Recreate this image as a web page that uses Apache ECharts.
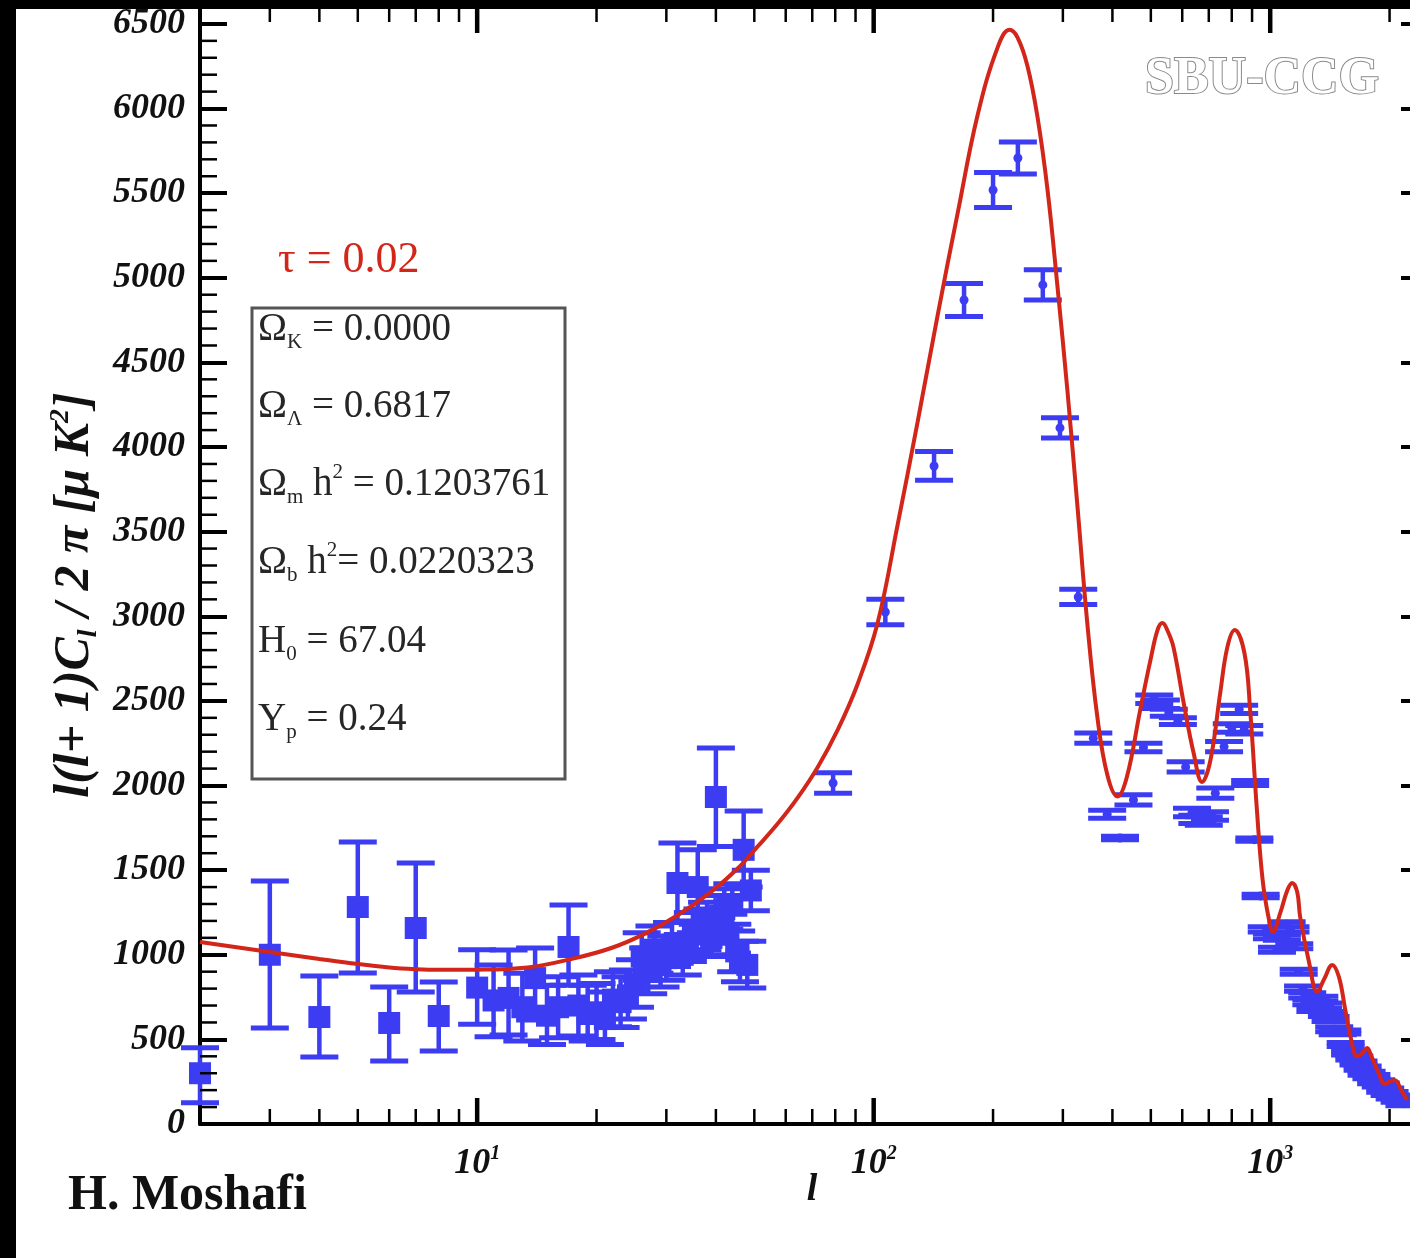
<!DOCTYPE html>
<html>
<head>
<meta charset="utf-8">
<title>CMB TT power spectrum</title>
<script src="https://cdn.jsdelivr.net/npm/echarts@6/dist/echarts.min.js"></script>
<style>
  html, body { margin: 0; padding: 0; background: #fff; }
  #chart { width: 1410px; height: 1258px; }
</style>
</head>
<body>
<div id="chart"></div>
<script>
// ---- low-l measurements: multipole, value, lower and upper error bounds ----
const lowEll = [2, 3, 4, 5, 6, 7, 8, 10, 11, 12, 13, 14, 15, 16, 17, 18, 19, 20, 21, 22, 23, 24, 25,
  26, 27, 28, 29, 30, 31, 32, 33, 34, 35, 36, 37, 38, 39, 40, 41, 42, 43, 44, 45, 46, 47, 48, 49];
const lowVal = [300, 1000, 632, 1282, 597, 1158, 638, 806, 730, 745, 690, 862, 640, 690, 1046, 700, 650, 660, 620, 735, 720, 760, 830,
  990, 900, 1030, 940, 980, 1060, 1424, 1000, 1080, 1130, 1400, 1150, 1190, 1100, 1932, 1230, 1270, 1120, 1300, 1020, 960, 1620, 940, 1380];
const lowLo = [125, 567, 396, 892, 372, 780, 431, 590, 515, 526, 490, 615, 470, 510, 820, 520, 490, 500, 470, 575, 570, 620, 690,
  850, 770, 890, 810, 850, 930, 1190, 880, 960, 1010, 1180, 1030, 1070, 990, 1640, 1110, 1150, 1000, 1180, 900, 840, 1400, 804, 1260];
const lowHi = [450, 1436, 875, 1666, 810, 1542, 839, 1030, 940, 1028, 890, 1040, 820, 870, 1294, 880, 820, 830, 780, 900, 870, 910, 970,
  1130, 1040, 1170, 1070, 1110, 1190, 1660, 1120, 1200, 1250, 1620, 1270, 1310, 1220, 2222, 1350, 1390, 1240, 1420, 1140, 1080, 1850, 1080, 1500];

// ---- binned high-l measurements: multipole, value, symmetric error ----
const highEll = [79, 107, 142, 169, 200, 231, 267, 295, 328, 358, 388, 418, 452, 479, 510, 530, 555, 585, 612, 635, 655, 680, 705, 727,
  765, 800, 835, 860, 890, 912, 946, 980, 1010, 1040, 1070, 1100, 1125, 1150, 1180, 1210, 1240, 1270, 1300, 1330, 1360, 1390, 1420,
  1450, 1480, 1520, 1550, 1590, 1630, 1670, 1710, 1750, 1800, 1850, 1900, 1950, 2000, 2060, 2120, 2180];
const highVal = [2015, 3025, 3888, 4869, 5519, 5708, 4958, 4113, 3114, 2280, 1830, 1690, 1915, 2225, 2510, 2480, 2430, 2380, 2110, 1840, 1800, 1790, 1820, 1955,
  2230, 2340, 2450, 2330, 2015, 1680, 1347, 1150, 1110, 1030, 1100, 1180, 1150, 1050, 900, 800, 760, 720, 680, 740, 700, 650, 620,
  560, 540, 544, 470, 420, 390, 360, 330, 300, 280, 250, 230, 200, 180, 160, 140, 120];
const highErr = [60, 75, 85, 97, 103, 95, 89, 60, 45, 30, 24, 10, 30, 25, 25, 25, 20, 20, 30, 25, 25, 25, 25, 30,
  30, 25, 25, 25, 15, 10, 10, 15, 15, 15, 15, 15, 15, 15, 15, 15, 15, 15, 15, 15, 15, 15, 15,
  15, 12, 12, 12, 12, 12, 12, 12, 12, 12, 12, 12, 12, 12, 12, 12, 12];

// ---- model spectrum (tau = 0.02) ----
const modelEll = [2, 3, 4, 5, 6, 7, 8, 10, 13.4, 17.3, 21.8, 26.5, 32.1, 38.8, 45.4, 51, 57.3, 64.4, 72.3, 81.2, 91.1, 102.3,
  114.9, 129.1, 145, 162.8, 182.8, 205.3, 220, 230.5, 244.3, 258.9, 274.4, 290.7, 308.1, 326.5, 346, 366.7, 388.6, 411.8,
  435, 470, 499, 520, 535, 552, 570, 605, 641, 673, 707, 748, 780, 814, 861, 890, 926, 957, 990, 1016, 1060, 1104, 1136, 1170,
  1190, 1254, 1314, 1370, 1433, 1490, 1545, 1600, 1656, 1710, 1755, 1800, 1870, 1948, 2000, 2064, 2140, 2214];
const modelVal = [1075, 1016, 975, 945, 925, 915, 911, 912, 925, 975, 1040, 1125, 1235, 1370, 1510, 1640, 1775, 1930, 2110, 2330, 2600, 2960,
  3540, 4150, 4780, 5380, 5960, 6360, 6465, 6420, 6250, 5950, 5520, 4950, 4330, 3650, 2950, 2400, 2060, 1935,
  2050, 2446, 2742, 2920, 2960, 2910, 2819, 2488, 2192, 2021, 2151, 2547, 2819, 2919, 2783, 2446, 1850, 1442, 1223, 1135, 1247, 1380, 1424, 1370,
  1223, 951, 780, 860, 940, 870, 680, 500, 400, 420, 449, 400, 310, 235, 250, 258, 200, 142];

// ---- axis furniture ----
const xMajorTicks = [10, 100, 1000];
const xMinorTicks = [2, 3, 4, 5, 6, 7, 8, 9, 20, 30, 40, 50, 60, 70, 80, 90, 200, 300, 400, 500, 600, 700, 800, 900, 2000];
const yTickStep = 500;
const yMinorStep = 100;
const yMinorTicks = [];
for (let v = yMinorStep; v < 6500; v += yMinorStep) {
  if (v % yTickStep !== 0) yMinorTicks.push(v);
}

const paramLines = [
  '{g|Ω}{sub|K}{t| = 0.0000}',
  '{g|Ω}{sub|Λ}{t| = 0.6817}',
  '{g|Ω}{sub|m}{t| h}{sup|2}{t| = 0.1203761}',
  '{g|Ω}{sub|b}{t| h}{sup|2}{t|= 0.0220323}',
  '{t|H}{sub|0}{t| = 67.04}',
  '{t|Y}{sub|p}{t| = 0.24}'
];

const BLUE = '#3c3cf2';
const RED = '#d2261a';
const SERIF = '"Liberation Serif", "Times New Roman", serif';

const chart = echarts.init(document.getElementById('chart'), null, { renderer: 'canvas' });

function errorBar(params, api, markerKind) {
  const l = api.value(0);
  const c = api.coord([l, api.value(1)]);
  const a = api.coord([l, api.value(2)]);
  const b = api.coord([l, api.value(3)]);
  const hw = 19;
  const children = [
    { type: 'line', shape: { x1: c[0], y1: a[1], x2: c[0], y2: b[1] }, style: { stroke: BLUE, lineWidth: 4.5 } },
    { type: 'line', shape: { x1: c[0] - hw, y1: a[1], x2: c[0] + hw, y2: a[1] }, style: { stroke: BLUE, lineWidth: 5 } },
    { type: 'line', shape: { x1: c[0] - hw, y1: b[1], x2: c[0] + hw, y2: b[1] }, style: { stroke: BLUE, lineWidth: 5 } }
  ];
  if (markerKind === 'square') {
    children.push({ type: 'rect', shape: { x: c[0] - 11, y: c[1] - 11, width: 22, height: 22 }, style: { fill: BLUE } });
  } else {
    children.push({ type: 'circle', shape: { cx: c[0], cy: c[1], r: 4.5 }, style: { fill: BLUE } });
  }
  return { type: 'group', children };
}

const paramRich = {
  g: { fontFamily: SERIF, fontSize: 39, lineHeight: 46, fill: '#262626' },
  t: { fontFamily: SERIF, fontSize: 39, lineHeight: 46, fill: '#262626' },
  sub: { fontFamily: SERIF, fontSize: 21, lineHeight: 14, verticalAlign: 'bottom', fill: '#262626' },
  sup: { fontFamily: SERIF, fontSize: 21, lineHeight: 16, verticalAlign: 'top', fill: '#262626' }
};
const paramRowY = [330, 407, 485, 563, 642, 720];

const graphics = [
  { type: 'rect', z: 50, shape: { x: 252, y: 308, width: 313, height: 471 }, style: { fill: '#fff', stroke: '#555', lineWidth: 3 } },
  ...paramLines.map((txt, i) => ({
    type: 'text', z: 51, x: 258, y: paramRowY[i],
    style: { text: txt, align: 'left', verticalAlign: 'middle', rich: paramRich }
  })),
  { type: 'text', z: 51, x: 278, y: 260,
    style: { text: 'τ = 0.02', fontFamily: SERIF, fontSize: 44, fill: RED, align: 'left', verticalAlign: 'middle' } },
  { type: 'text', z: 51, x: 1262, y: 80,
    style: { text: 'SBU-CCG', fontFamily: SERIF, fontWeight: 'bold', fontSize: 52, fill: '#ffffff', stroke: '#8a8a8a', lineWidth: 2, align: 'center', verticalAlign: 'middle' } },
  { type: 'text', z: 51, x: 68, y: 1196,
    style: { text: 'H. Moshafi', fontFamily: SERIF, fontWeight: 'bold', fontSize: 50, fill: '#111', align: 'left', verticalAlign: 'middle' } },
  { type: 'text', z: 51, x: 812, y: 1190,
    style: { text: 'l', fontFamily: SERIF, fontWeight: 'bold', fontStyle: 'italic', fontSize: 38, fill: '#111', align: 'center', verticalAlign: 'middle' } },
  { type: 'text', z: 51, x: 75, y: 595, rotation: Math.PI / 2,
    style: {
      text: '{a|l(l+ 1)C}{sub|l}{a| / 2 π [μ K}{sup|2}{a|]}',
      align: 'center', verticalAlign: 'middle',
      rich: {
        a: { fontFamily: SERIF, fontWeight: 'bold', fontStyle: 'italic', fontSize: 50, lineHeight: 56, fill: '#111' },
        sub: { fontFamily: SERIF, fontWeight: 'bold', fontStyle: 'italic', fontSize: 28, lineHeight: 20, verticalAlign: 'bottom', fill: '#111' },
        sup: { fontFamily: SERIF, fontWeight: 'bold', fontStyle: 'italic', fontSize: 28, lineHeight: 22, verticalAlign: 'top', fill: '#111' }
      }
    } },
  // frame bands
  { type: 'rect', z: 100, shape: { x: 0, y: 0, width: 16, height: 1258 }, style: { fill: '#000' } },
  { type: 'rect', z: 100, shape: { x: 0, y: 0, width: 1410, height: 9 }, style: { fill: '#000' } }
];

const yLabelStyle = {
  fontFamily: SERIF, fontWeight: 'bold', fontStyle: 'italic', fontSize: 36, color: '#111'
};

const option = {
  animation: false,
  backgroundColor: '#fff',
  grid: { left: 200, top: 7, width: 1228, height: 1117, outerBoundsMode: 'none', containLabel: false },
  xAxis: {
    type: 'log', logBase: 10, min: 2, max: 2500,
    axisLine: { lineStyle: { color: '#000', width: 4 } },
    axisTick: { show: false },
    splitLine: { show: false },
    axisLabel: {
      margin: 20,
      formatter: function (value) {
        const e = Math.log10(value);
        const r = Math.round(e);
        if (Math.abs(e - r) > 1e-6) return '';
        return '{b|10}{s|' + r + '}';
      },
      rich: {
        b: { fontFamily: SERIF, fontWeight: 'bold', fontStyle: 'italic', fontSize: 36, lineHeight: 40, color: '#111' },
        s: { fontFamily: SERIF, fontWeight: 'bold', fontStyle: 'italic', fontSize: 20, lineHeight: 18, verticalAlign: 'top', color: '#111' }
      }
    }
  },
  yAxis: [
    {
      type: 'value', position: 'left', min: 0, max: 6600, interval: yTickStep,
      axisLine: { show: true, lineStyle: { color: '#000', width: 4 } },
      axisTick: { show: true, inside: true, length: 27, lineStyle: { color: '#000', width: 4 } },
      splitLine: { show: false },
      axisLabel: Object.assign({ margin: 15, showMaxLabel: false, formatter: v => String(v) }, yLabelStyle)
    },
    {
      type: 'value', position: 'right', min: 0, max: 6600, interval: yTickStep,
      axisLine: { show: true, lineStyle: { color: '#000', width: 4 } },
      axisTick: { show: true, inside: true, length: 27, lineStyle: { color: '#000', width: 4 } },
      splitLine: { show: false },
      axisLabel: { show: false }
    }
  ],
  series: [
    {
      name: 'low-l', type: 'custom', z: 2,
      encode: { x: 0, y: 1 },
      data: lowEll.map((l, i) => [l, lowVal[i], lowLo[i], lowHi[i]]),
      renderItem: (params, api) => errorBar(params, api, 'square')
    },
    {
      name: 'high-l', type: 'custom', z: 2,
      encode: { x: 0, y: 1 },
      data: highEll.map((l, i) => [l, highVal[i], highVal[i] - highErr[i], highVal[i] + highErr[i]]),
      renderItem: (params, api) => errorBar(params, api, 'dot')
    },
    {
      name: 'model', type: 'line', z: 3,
      data: modelEll.map((l, i) => [l, modelVal[i]]),
      smooth: 0.4,
      showSymbol: false, symbol: 'none',
      lineStyle: { color: RED, width: 4 }
    },
    {
      name: 'x ticks', type: 'custom', z: 5, silent: true,
      encode: { x: 0, y: 1 },
      data: xMajorTicks.map(l => [l, 0, 1]).concat(xMinorTicks.map(l => [l, 0, 0])),
      renderItem: function (params, api) {
        const cs = params.coordSys;
        const x = api.coord([api.value(0), 0])[0];
        const major = api.value(2) === 1;
        const len = major ? 26 : 15;
        const w = major ? 4.5 : 2.5;
        const bottom = cs.y + cs.height, top = cs.y;
        return { type: 'group', children: [
          { type: 'line', shape: { x1: x, y1: bottom, x2: x, y2: bottom - len }, style: { stroke: '#000', lineWidth: w } },
          { type: 'line', shape: { x1: x, y1: top, x2: x, y2: top + len }, style: { stroke: '#000', lineWidth: w } }
        ] };
      }
    },
    {
      name: 'y minor ticks', type: 'custom', z: 5, silent: true,
      encode: { x: 0, y: 1 },
      data: yMinorTicks.map(v => [10, v]),
      renderItem: function (params, api) {
        const cs = params.coordSys;
        const y = api.coord([10, api.value(1)])[1];
        const left = cs.x, right = cs.x + cs.width;
        return { type: 'group', children: [
          { type: 'line', shape: { x1: left, y1: y, x2: left + 17, y2: y }, style: { stroke: '#000', lineWidth: 2.5 } },
          { type: 'line', shape: { x1: right, y1: y, x2: right - 17, y2: y }, style: { stroke: '#000', lineWidth: 2.5 } }
        ] };
      }
    }
  ],
  graphic: graphics
};

chart.setOption(option);
</script>
</body>
</html>
